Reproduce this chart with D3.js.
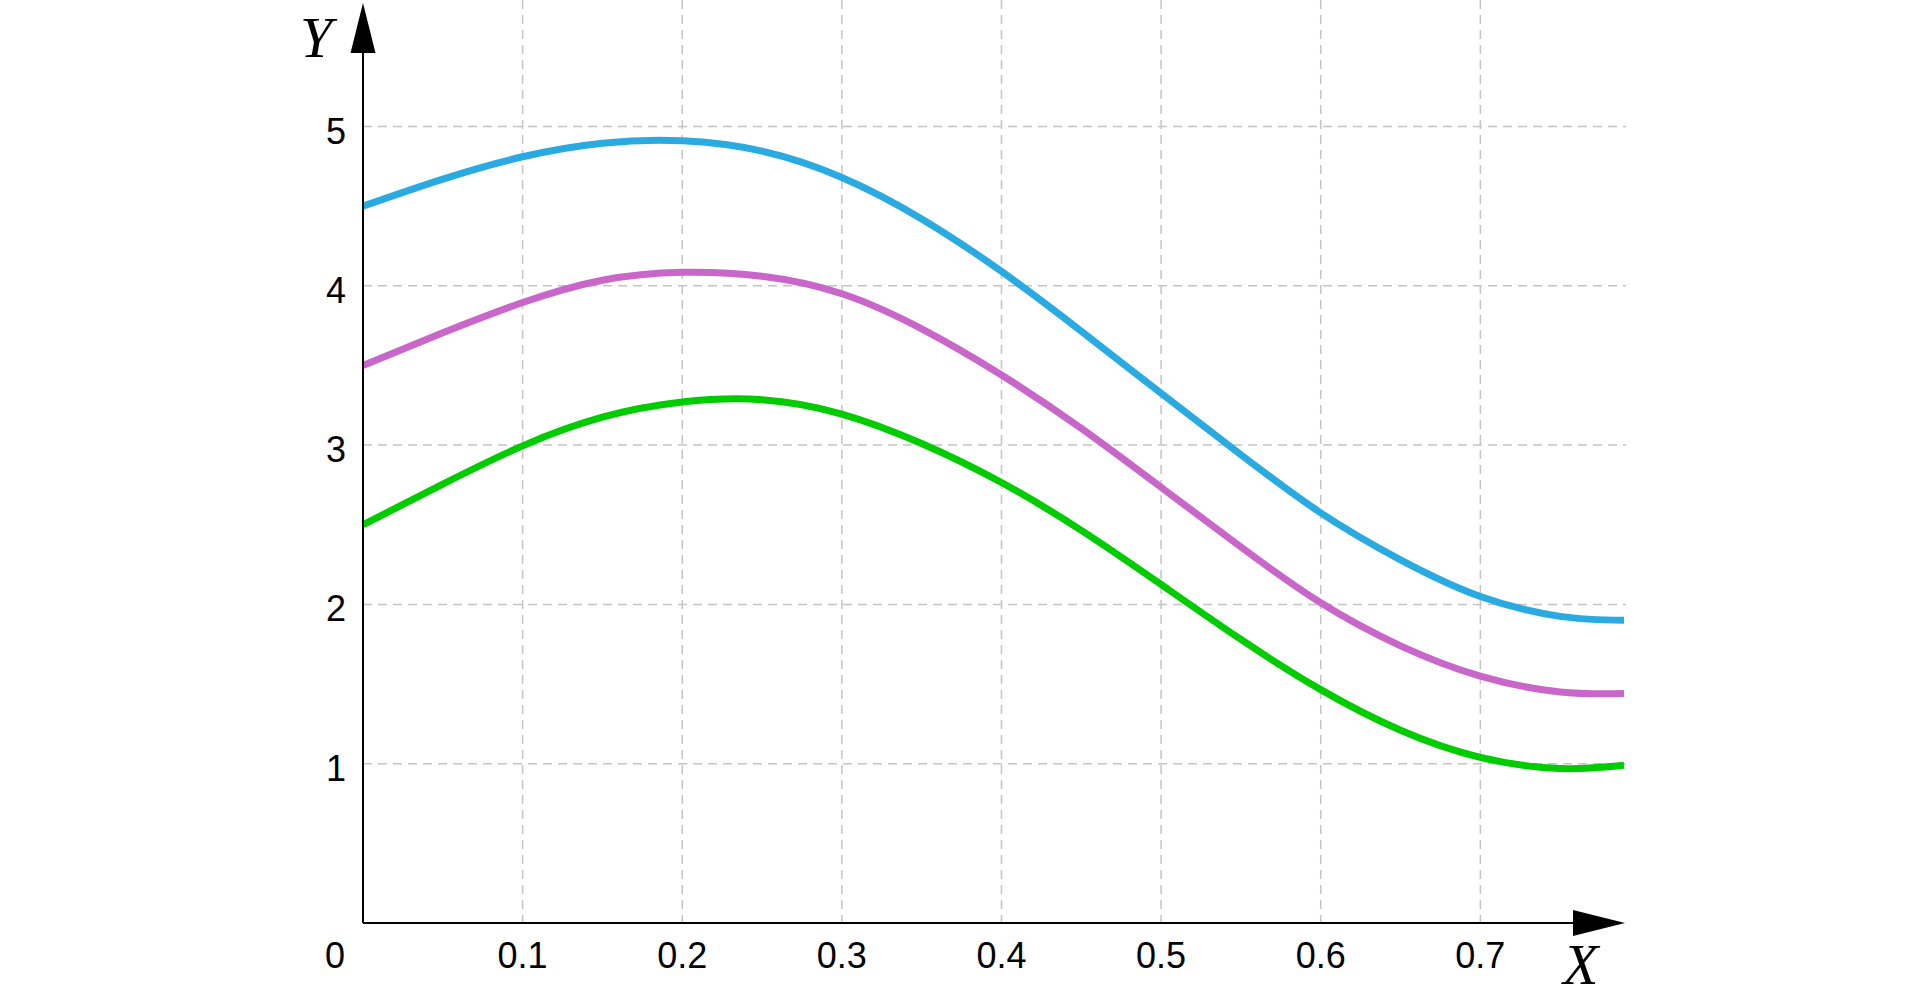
<!DOCTYPE html>
<html lang="en">
<head>
    <meta charset="UTF-8">
    <script src="https://d3js.org/d3.v7.min.js"></script>
    <title>Three curves</title>
    <style>
        body {
            margin: 0;
            background: #fff;
            overflow: hidden;
        }
        .tick-label {
            font-family: "Liberation Sans", Arial, sans-serif;
            font-size: 36px;
            fill: #000;
        }
        .axis-name {
            font-family: "Liberation Serif", "Times New Roman", serif;
            font-style: italic;
            font-size: 58px;
            fill: #000;
        }
    </style>
</head>
<body>
    <script>
        // x values where the curves were read
        var xs = [0, 0.05, 0.1, 0.15, 0.2, 0.25, 0.3, 0.35, 0.4, 0.45, 0.5, 0.55, 0.6, 0.65, 0.7, 0.75, 0.79];

        var blueValues = [4.50, 4.67, 4.81, 4.895, 4.91, 4.845, 4.68, 4.42, 4.09, 3.715, 3.325, 2.94, 2.575, 2.28, 2.05, 1.925, 1.90];
        var magentaValues = [3.50, 3.705, 3.895, 4.035, 4.085, 4.06, 3.95, 3.73, 3.44, 3.105, 2.735, 2.36, 2.01, 1.74, 1.55, 1.45, 1.44];
        var greenValues = [2.50, 2.755, 2.995, 3.175, 3.27, 3.285, 3.195, 3.01, 2.765, 2.465, 2.125, 1.78, 1.465, 1.21, 1.04, 0.97, 0.99];

        var xTicks = [0.1, 0.2, 0.3, 0.4, 0.5, 0.6, 0.7];
        var yTicks = [1, 2, 3, 4, 5];

        var width = 1920,
            height = 998;

        var svg = d3.select("body")
            .append("svg")
            .attr("width", width)
            .attr("height", height);

        var x = d3.scaleLinear().domain([0, 0.79]).range([363, 1624]);
        var y = d3.scaleLinear().domain([0, 5]).range([923, 126.5]);

        // grille en pointillés
        svg.append("g")
            .selectAll("line")
            .data(xTicks)
            .join("line")
            .attr("x1", d => x(d))
            .attr("x2", d => x(d))
            .attr("y1", 0)
            .attr("y2", y(0))
            .attr("stroke", "#c4c4c4")
            .attr("stroke-width", 1.5)
            .attr("stroke-dasharray", "9,6");

        svg.append("g")
            .selectAll("line")
            .data(yTicks)
            .join("line")
            .attr("x1", x(0))
            .attr("x2", x(0.79) + 2)
            .attr("y1", d => y(d))
            .attr("y2", d => y(d))
            .attr("stroke", "#c4c4c4")
            .attr("stroke-width", 1.5)
            .attr("stroke-dasharray", "9,6");

        // courbes
        var line = d3.line()
            .x((d, i) => x(xs[i]))
            .y(d => y(d))
            .curve(d3.curveNatural);

        var series = [
            { values: greenValues, color: "#00cc00" },
            { values: magentaValues, color: "#c966c9" },
            { values: blueValues, color: "#29abe2" }
        ];

        svg.append("g")
            .selectAll("path")
            .data(series)
            .join("path")
            .attr("d", d => line(d.values))
            .attr("fill", "none")
            .attr("stroke", d => d.color)
            .attr("stroke-width", 7);

        // axes avec flèches
        svg.append("line")
            .attr("x1", x(0)).attr("x2", 1580)
            .attr("y1", y(0)).attr("y2", y(0))
            .attr("stroke", "#000").attr("stroke-width", 2);

        svg.append("line")
            .attr("x1", x(0)).attr("x2", x(0))
            .attr("y1", y(0)).attr("y2", 45)
            .attr("stroke", "#000").attr("stroke-width", 2);

        svg.append("path")
            .attr("d", "M1625," + y(0) + "L1573," + (y(0) - 13) + "L1573," + (y(0) + 13) + "Z")
            .attr("fill", "#000");

        svg.append("path")
            .attr("d", "M" + x(0) + ",3L" + (x(0) - 12.5) + ",53L" + (x(0) + 12.5) + ",53Z")
            .attr("fill", "#000");

        // étiquettes
        svg.append("g")
            .selectAll("text")
            .data(xTicks)
            .join("text")
            .attr("class", "tick-label")
            .attr("x", d => x(d))
            .attr("y", 968)
            .attr("text-anchor", "middle")
            .text(d => d);

        svg.append("text")
            .attr("class", "tick-label")
            .attr("x", 335)
            .attr("y", 968)
            .attr("text-anchor", "middle")
            .text("0");

        svg.append("g")
            .selectAll("text")
            .data(yTicks)
            .join("text")
            .attr("class", "tick-label")
            .attr("x", 346)
            .attr("y", d => y(d) + 17)
            .attr("text-anchor", "end")
            .text(d => d);

        svg.append("text")
            .attr("class", "axis-name")
            .attr("x", 300)
            .attr("y", 57)
            .text("Y");

        svg.append("text")
            .attr("class", "axis-name")
            .attr("x", 1563)
            .attr("y", 984)
            .text("X");
    </script>
</body>
</html>
